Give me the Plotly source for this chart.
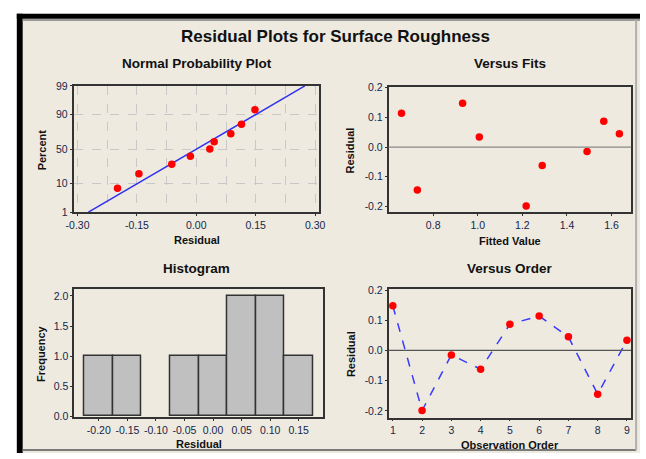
import math
import numpy as np
import plotly.graph_objects as go

# ---------------- data ----------------
observation_order = [1, 2, 3, 4, 5, 6, 7, 8, 9]
residuals = [0.148, -0.199, -0.015, -0.062, 0.087, 0.114, 0.045, -0.145, 0.034]
fitted_values = [0.932, 1.217, 1.490, 1.289, 1.565, 0.658, 1.635, 0.729, 1.007]
npp_percent = [7.4, 18.1, 28.7, 39.4, 50.0, 60.6, 71.3, 81.9, 92.6]
npp_tick_percent = [1, 10, 50, 90, 99]
npp_x_ticks = [-0.30, -0.15, 0.00, 0.15, 0.30]
hist_x_ticks = [-0.20, -0.15, -0.10, -0.05, 0.00, 0.05, 0.10, 0.15]
hist_y_ticks = [0.0, 0.5, 1.0, 1.5, 2.0]
fits_x_ticks = [0.8, 1.0, 1.2, 1.4, 1.6]
resid_y_ticks = [-0.2, -0.1, 0.0, 0.1, 0.2]

W, H = 646, 459


def norm_ppf(p):
    lo, hi = -10.0, 10.0
    for _ in range(80):
        mid = 0.5 * (lo + hi)
        if 0.5 * (1 + math.erf(mid / math.sqrt(2))) < p:
            lo = mid
        else:
            hi = mid
    return 0.5 * (lo + hi)


def px(x):
    return x / W


def py(y):
    return 1 - y / H


npp_z = [norm_ppf(p / 100) for p in npp_percent]
npp_tick_z = [norm_ppf(p / 100) for p in npp_tick_percent]
sorted_res = sorted(residuals)
mu = float(np.mean(residuals))
sd = float(np.std(residuals, ddof=1))
z_lo, z_hi = npp_tick_z[0], npp_tick_z[-1]

FONT = "Liberation Sans"
TICKC = "#16264A"
FRAME = "#333333"
BEIGE = "#EEEAE0"

fig = go.Figure()

# Normal probability plot
fig.add_trace(go.Scatter(x=[mu + z_lo * sd, mu + z_hi * sd], y=[z_lo, z_hi], mode="lines",
                         line=dict(color="#3030F0", width=1.5), xaxis="x", yaxis="y",
                         showlegend=False, hoverinfo="skip"))
fig.add_trace(go.Scatter(x=sorted_res, y=npp_z, mode="markers",
                         marker=dict(color="#FF0000", size=7.5, symbol="circle"),
                         xaxis="x", yaxis="y", showlegend=False))

# Versus fits
fig.add_trace(go.Scatter(x=fitted_values, y=residuals, mode="markers",
                         marker=dict(color="#FF0000", size=7.5), xaxis="x2", yaxis="y2",
                         showlegend=False))

# Histogram
fig.add_trace(go.Histogram(x=residuals, xbins=dict(start=-0.225, end=0.175, size=0.05),
                           marker=dict(color="#C0C0C0", line=dict(color="#333333", width=1.5)),
                           xaxis="x3", yaxis="y3", showlegend=False))

# Versus order
fig.add_trace(go.Scatter(x=observation_order, y=residuals, mode="lines+markers",
                         line=dict(color="#3A3AFF", width=1.5, dash="dash"),
                         marker=dict(color="#FF0000", size=7.5), xaxis="x4", yaxis="y4",
                         showlegend=False))

tickfont = dict(family=FONT, size=10.5, color=TICKC)
common = dict(showline=True, linecolor=FRAME, linewidth=1.5, mirror=True, ticks="outside",
              ticklen=2, tickcolor=FRAME, tickfont=tickfont, zeroline=False, showgrid=False)

shapes = [
    dict(type="rect", xref="paper", yref="paper", x0=px(10), x1=px(646), y0=py(459), y1=py(8),
         fillcolor=BEIGE, line=dict(width=0), layer="below"),
    dict(type="rect", xref="paper", yref="paper", x0=px(9), x1=px(15), y0=py(459), y1=py(8),
         fillcolor="#000000", line=dict(width=0), layer="below"),
    dict(type="rect", xref="paper", yref="paper", x0=px(9), x1=px(646), y0=py(13), y1=py(8),
         fillcolor="#000000", line=dict(width=0), layer="below"),
    dict(type="line", xref="paper", yref="paper", x0=px(15), x1=px(646), y0=py(14.5), y1=py(14.5),
         line=dict(color="#9A9A9A", width=2), layer="below"),
    dict(type="line", xref="paper", yref="paper", x0=px(15), x1=px(642), y0=py(456), y1=py(456),
         line=dict(color="#7A7A7A", width=2), layer="below"),
    dict(type="line", xref="paper", yref="paper", x0=px(642), x1=px(642), y0=py(456), y1=py(14),
         line=dict(color="#B0B0B0", width=2), layer="below"),
    dict(type="line", xref="x2 domain", yref="y2", x0=0, x1=1, y0=0, y1=0,
         line=dict(color="#8A8A8A", width=1.2)),
    dict(type="line", xref="x4 domain", yref="y4", x0=0, x1=1, y0=0, y1=0,
         line=dict(color="#555555", width=1.2)),
]

annotations = []


def ann(text, x, y, size, angle=0, bold=True, color="#111111"):
    annotations.append(dict(text=("<b>%s</b>" % text) if bold else text, x=px(x), y=py(y),
                            xref="paper", yref="paper", showarrow=False, textangle=angle,
                            xanchor="center", yanchor="middle",
                            font=dict(family=FONT, size=size, color=color)))


ann("Residual Plots for Surface Roughness", 335, 31, 17)
ann("Normal Probability Plot", 193, 59, 13.5)
ann("Versus Fits", 513, 59, 13.5)
ann("Histogram", 193, 270, 13.5)
ann("Versus Order", 513, 270, 13.5)
ann("Residual", 193, 240, 11)
ann("Percent", 35, 148, 11, angle=-90)
ann("Fitted Value", 513, 241, 11)
ann("Residual", 350, 148, 11, angle=-90)
ann("Residual", 195, 450, 11)
ann("Frequency", 33, 357, 11, angle=-90)
ann("Observation Order", 513, 451, 11)
ann("Residual", 350, 357, 11, angle=-90)

fig.update_layout(
    width=W, height=H, margin=dict(l=0, r=0, t=0, b=0),
    paper_bgcolor="#FFFFFF", plot_bgcolor="#FFFFFF",
    shapes=shapes, annotations=annotations, bargap=0,
    xaxis=dict(common, domain=[px(67), px(318)], anchor="y", range=[-0.31, 0.31],
               tickvals=npp_x_ticks, ticktext=["%.2f" % v for v in npp_x_ticks],
               showgrid=True, gridcolor="#C8C8C8", griddash="dash", gridwidth=1,
               minor=dict(tick0=-0.3, dtick=0.075, showgrid=True, gridcolor="#C8C8C8",
                          griddash="dash", ticks="")),
    yaxis=dict(common, domain=[py(211.7), py(82)], anchor="x", range=[z_lo, z_hi],
               tickvals=npp_tick_z, ticktext=[str(p) for p in npp_tick_percent],
               showgrid=True, gridcolor="#C8C8C8", griddash="dash", gridwidth=1),
    xaxis2=dict(common, domain=[px(389), px(637)], anchor="y2", range=[0.600, 1.688],
                tickvals=fits_x_ticks, ticktext=["%.1f" % v for v in fits_x_ticks]),
    yaxis2=dict(common, domain=[py(211.7), py(83.3)], anchor="x2", range=[-0.2197, 0.2023],
                tickvals=resid_y_ticks, ticktext=["%.1f" % v for v in resid_y_ticks]),
    xaxis3=dict(common, domain=[px(67.7), px(321.7)], anchor="y3", range=[-0.243, 0.192],
                tickvals=hist_x_ticks, ticktext=["%.2f" % v for v in hist_x_ticks]),
    yaxis3=dict(common, domain=[py(422.3), py(290.7)], anchor="x3", range=[-0.012, 2.113],
                tickvals=hist_y_ticks, ticktext=["%.1f" % v for v in hist_y_ticks]),
    xaxis4=dict(common, domain=[px(389), px(637)], anchor="y4", range=[0.855, 9.145],
                tickvals=observation_order, ticktext=[str(v) for v in observation_order]),
    yaxis4=dict(common, domain=[py(422.7), py(290.7)], anchor="x4", range=[-0.2226, 0.2032],
                tickvals=resid_y_ticks, ticktext=["%.1f" % v for v in resid_y_ticks]),
)

fig.write_html("out.html")
